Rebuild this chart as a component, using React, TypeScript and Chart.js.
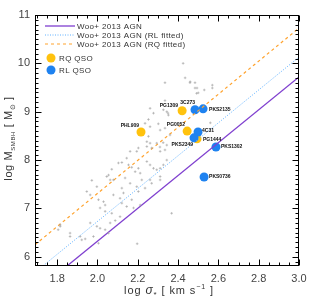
import React, { useEffect, useRef } from 'react';
import { Chart, registerables } from 'chart.js';
Chart.register(...registerables);

// ---- tick values ----
const xTicks = [1.8, 2.0, 2.2, 2.4, 2.6, 2.8, 3.0];
const yTicks = [6, 7, 8, 9, 10, 11];

// ---- RQ QSOs ----
const rqNames = ['PHL909', 'PG1309', 'PG0052', 'PG1444'];
const rqSigma = [2.216, 2.420, 2.445, 2.494];
const rqMass = [8.58, 9.02, 8.60, 8.44];

// ---- RL QSOs ----
const rlNames = ['3C273', 'PKS2135', '4C31', 'PKS2349', 'PKS1302', 'PKS0736'];
const rlSigma = [2.484, 2.524, 2.499, 2.479, 2.588, 2.529];
const rlMass = [9.04, 9.06, 8.58, 8.46, 8.27, 7.65];

// ---- Woo+ 2013 AGN sample (grey) ----
const agnSigma = [
  2.335, 2.459, 2.484, 2.492, 2.484, 2.335, 2.261, 2.327, 2.344, 2.278, 2.352,
  2.253, 2.302, 2.236, 2.261, 2.335, 2.311, 2.253, 2.245, 2.261, 2.245, 2.294,
  2.344, 2.335, 2.203, 2.195, 2.162, 2.269, 2.311, 2.145, 2.121, 2.104, 2.154,
  2.170, 2.203, 2.187, 2.212, 2.245, 2.261, 2.278, 2.294, 2.327, 2.311, 2.344,
  2.071, 2.055, 2.046, 2.079, 2.063, 2.137, 2.162, 2.195, 2.220, 2.261, 2.269,
  2.311, 2.311, 1.972, 1.997, 2.121, 2.129, 2.203, 2.236, 1.947, 1.964, 2.005,
  2.030, 2.038, 2.079, 2.112, 2.121, 2.145, 2.170, 2.179, 2.212, 2.071, 2.038,
  2.013, 2.368, 2.088, 2.112, 1.964, 1.997, 2.013, 2.038, 2.063, 2.055, 1.980,
  1.914, 1.922, 1.939, 1.864, 1.864, 1.815, 2.005, 2.197, 1.815, 1.805,
  2.425, 2.435, 2.460, 2.494, 2.530, 2.500, 2.570, 2.570, 2.350, 2.360, 2.326,
  2.560, 2.310
];
const agnMass = [
  9.60, 9.60, 9.60, 9.38, 9.49, 9.23, 9.07, 9.04, 9.00, 8.97, 8.93,
  8.84, 8.75, 8.76, 8.69, 8.66, 8.62, 8.49, 8.38, 8.35, 8.28, 8.35,
  8.31, 8.21, 8.25, 8.18, 8.18, 8.25, 8.18, 8.04, 7.95, 7.94, 7.90,
  7.85, 7.83, 7.76, 7.73, 7.97, 7.90, 7.83, 7.80, 7.90, 7.83, 8.00,
  7.81, 7.69, 7.66, 7.59, 7.59, 7.63, 7.52, 7.45, 7.59, 7.59, 7.52,
  7.66, 7.59, 7.58, 7.45, 7.42, 7.32, 7.35, 7.42, 7.35, 7.28, 7.18,
  7.14, 7.07, 7.28, 7.21, 7.11, 7.04, 7.18, 7.01, 7.07, 6.90, 6.94,
  7.01, 6.90, 6.75, 6.83, 6.70, 6.63, 6.59, 6.56, 6.70, 6.49, 6.42,
  6.42, 6.35, 6.37, 6.49, 6.42, 6.63, 6.28, 6.27, 6.66, 6.56,
  10.00, 9.70, 9.62, 9.49, 9.45, 9.39, 9.55, 9.49, 8.97, 8.52, 8.36,
  8.77, 8.27
];

// ---- relation lines (end points) ----
const wooSigma = [1.84, 3.0];
const wooMass = [5.78, 9.72];
const rlFitSigma = [1.72, 3.0];
const rlFitMass = [5.78, 10.13];
const rqFitSigma = [1.69, 3.0];
const rqFitMass = [6.25, 10.73];

const COL_WOO = '#7f3fcf';
const COL_RL_FIT = '#5fb0ff';
const COL_RQ_FIT = '#ffa32e';
const COL_RQ = '#ffc20e';
const COL_RL = '#1e82f0';

const FONT = '"Liberation Sans", Arial, Helvetica, sans-serif';

// label placement (pixel offsets, align) for named points
const labelPlacement: Record<string, [number, number, CanvasTextAlign]> = {
  PHL909: [-2, -6, 'right'],
  PG1309: [-4, -5, 'right'],
  '3C273': [0, -7, 'right'],
  PKS2135: [6, 1, 'left'],
  PG0052: [-2, -6, 'right'],
  '4C31': [4, -1, 'left'],
  PG1444: [6, 1, 'left'],
  PKS2349: [-1, 7, 'right'],
  PKS1302: [5, 0, 'left'],
  PKS0736: [5, 0, 'left'],
};

const zip = (xs: number[], ys: number[]) => xs.map((x, i) => ({ x, y: ys[i] }));

const decorPlugin = {
  id: 'decor',
  afterDatasetsDraw(chart: any) {
    const { ctx } = chart;
    ctx.save();
    ctx.font = `bold 5px ${FONT}`;
    ctx.fillStyle = '#111';
    ctx.textBaseline = 'middle';
    chart.data.datasets.forEach((ds: any, di: number) => {
      if (!ds.names) return;
      const meta = chart.getDatasetMeta(di);
      meta.data.forEach((el: any, i: number) => {
        const name = ds.names[i];
        const p = labelPlacement[name];
        if (!p) return;
        ctx.textAlign = p[2];
        ctx.fillText(name, el.x + p[0], el.y + p[1]);
      });
    });
    ctx.restore();
  },
  afterDraw(chart: any) {
    const { ctx, chartArea } = chart;
    const { left, right, top, bottom } = chartArea;
    const xs = chart.scales.x;
    const ys = chart.scales.y;
    ctx.save();
    // frame
    ctx.strokeStyle = '#000';
    ctx.lineWidth = 1;
    const L = Math.round(left) + 0.5, R = Math.round(right) - 0.5;
    const T = Math.round(top) + 0.5, B = Math.round(bottom) - 0.5;
    ctx.strokeRect(L, T, R - L, B - T);
    // x ticks (inside, top & bottom)
    ctx.beginPath();
    for (let k = 34; k <= 60; k++) {
      const v = k * 0.05;
      if (v < xs.min - 1e-9 || v > xs.max + 1e-9) continue;
      const px = Math.round(xs.getPixelForValue(v)) + 0.5;
      const major = k % 4 === 0;
      const len = major ? 6 : 3;
      ctx.moveTo(px, B); ctx.lineTo(px, B - len);
      ctx.moveTo(px, T); ctx.lineTo(px, T + len);
    }
    // y ticks (inside, left & right)
    for (let k = 58; k <= 110; k++) {
      const v = k * 0.1;
      if (v < ys.min - 1e-9 || v > ys.max + 1e-9) continue;
      const py = Math.round(ys.getPixelForValue(v)) + 0.5;
      const major = k % 10 === 0;
      const len = major ? 6 : 3;
      ctx.moveTo(L, py); ctx.lineTo(L + len, py);
      ctx.moveTo(R, py); ctx.lineTo(R - len, py);
    }
    ctx.stroke();

    // legend
    const lg = [
      { c: COL_WOO, dash: [] as number[], w: 1.3, t: 'Woo+ 2013 AGN' },
      { c: COL_RL_FIT, dash: [1, 1.5], w: 1, t: 'Woo+ 2013 AGN (RL fitted)' },
      { c: COL_RQ_FIT, dash: [3, 3], w: 1.2, t: 'Woo+ 2013 AGN (RQ fitted)' },
    ];
    (ctx as any).letterSpacing = '0.35px';
    ctx.font = `8px ${FONT}`;
    ctx.textBaseline = 'middle';
    ctx.textAlign = 'left';
    lg.forEach((e, i) => {
      const y = 26 + i * 9;
      ctx.strokeStyle = e.c;
      ctx.lineWidth = e.w;
      ctx.setLineDash(e.dash);
      ctx.beginPath();
      ctx.moveTo(45, y); ctx.lineTo(75, y);
      ctx.stroke();
      ctx.fillStyle = '#333';
      ctx.fillText(e.t, 77, y + 0.5);
    });
    ctx.setLineDash([]);
    const lp = [
      { c: COL_RQ, t: 'RQ QSO' },
      { c: COL_RL, t: 'RL QSO' },
    ];
    lp.forEach((e, i) => {
      const y = 58 + i * 12;
      ctx.fillStyle = e.c;
      ctx.beginPath();
      ctx.arc(51, y, 4.5, 0, Math.PI * 2);
      ctx.fill();
      ctx.fillStyle = '#333';
      ctx.font = `8px ${FONT}`;
      ctx.fillText(e.t, 59, y + 0.5);
    });

    // axis titles
    ctx.fillStyle = '#333';
    const drawRich = (parts: { t: string; dy: number; size: number; italic?: boolean }[], x: number, y: number) => {
      let cx = x;
      parts.forEach((p) => {
        ctx.font = `${p.italic ? 'italic ' : ''}${p.size}px ${FONT}`;
        ctx.fillText(p.t, cx, y + p.dy);
        cx += ctx.measureText(p.t).width;
      });
      return cx - x;
    };
    const measureRich = (parts: { t: string; dy: number; size: number; italic?: boolean }[]) => {
      let w = 0;
      parts.forEach((p) => {
        ctx.font = `${p.italic ? 'italic ' : ''}${p.size}px ${FONT}`;
        w += ctx.measureText(p.t).width;
      });
      return w;
    };
    ctx.textAlign = 'left';
    ctx.textBaseline = 'alphabetic';
    (ctx as any).letterSpacing = '0.9px';
    const xParts = [
      { t: 'log ', dy: 0, size: 11 },
      { t: 'σ', dy: 0, size: 12, italic: true },
      { t: '*', dy: 3, size: 8 },
      { t: ' [ km s', dy: 0, size: 11 },
      { t: '−1', dy: -5, size: 7 },
      { t: ' ]', dy: 0, size: 11 },
    ];
    const xw = measureRich(xParts);
    drawRich(xParts, (left + right) / 2 - xw / 2 + 2, 294);
    (ctx as any).letterSpacing = '0.6px';
    const yParts = [
      { t: 'log M', dy: 0, size: 11 },
      { t: 'SMBH', dy: 3, size: 6 },
      { t: ' [ M', dy: 0, size: 11 },
      { t: '⊙', dy: 3, size: 7 },
      { t: ' ]', dy: 0, size: 11 },
    ];
    const yw = measureRich(yParts);
    ctx.save();
    ctx.translate(12, (top + bottom) / 2 - 2);
    ctx.rotate(-Math.PI / 2);
    drawRich(yParts, -yw / 2, 0);
    ctx.restore();
    (ctx as any).letterSpacing = '0px';
    ctx.restore();
  },
};

export default function App() {
  const ref = useRef<HTMLCanvasElement | null>(null);
  useEffect(() => {
    document.body.style.margin = '0';
    const canvas = ref.current!;
    const chart = new Chart(canvas, {
      type: 'scatter',
      data: {
        datasets: [
          {
            type: 'scatter',
            data: zip(agnSigma, agnMass),
            pointStyle: 'cross',
            pointRadius: 1.3,
            borderColor: '#a0a0a0',
            borderWidth: 0.6,
            backgroundColor: '#a0a0a0',
          } as any,
          {
            type: 'line',
            data: zip(wooSigma, wooMass),
            borderColor: COL_WOO,
            borderWidth: 1.3,
            pointRadius: 0,
            fill: false,
          } as any,
          {
            type: 'line',
            data: zip(rlFitSigma, rlFitMass),
            borderColor: COL_RL_FIT,
            borderWidth: 1,
            borderDash: [1, 1.5],
            pointRadius: 0,
            fill: false,
          } as any,
          {
            type: 'line',
            data: zip(rqFitSigma, rqFitMass),
            borderColor: COL_RQ_FIT,
            borderWidth: 1.2,
            borderDash: [3, 3],
            pointRadius: 0,
            fill: false,
          } as any,
          {
            type: 'scatter',
            data: zip(rlSigma, rlMass),
            names: rlNames,
            pointStyle: 'circle',
            pointRadius: 4.5,
            backgroundColor: COL_RL,
            borderWidth: 0,
          } as any,
          {
            type: 'scatter',
            data: zip(rqSigma, rqMass),
            names: rqNames,
            pointStyle: 'circle',
            pointRadius: 4.5,
            backgroundColor: COL_RQ,
            borderWidth: 0,
          } as any,
        ],
      },
      options: {
        responsive: false,
        animation: false,
        layout: { padding: { top: 15, right: 16, left: 0, bottom: 0 } },
        plugins: { legend: { display: false }, tooltip: { enabled: false } },
        scales: {
          x: {
            type: 'linear',
            min: 1.69,
            max: 3.0,
            afterBuildTicks: (s: any) => { s.ticks = xTicks.map((v) => ({ value: v })); },
            afterFit: (s: any) => { s.height = 33; },
            grid: { display: false, drawTicks: false },
            border: { display: false },
            ticks: {
              padding: 6,
              color: '#444',
              font: { family: FONT, size: 11 },
              callback: (v: any) => Number(v).toFixed(1),
              maxRotation: 0,
              autoSkip: false,
            },
          },
          y: {
            type: 'linear',
            min: 5.81,
            max: 11.0,
            afterBuildTicks: (s: any) => { s.ticks = yTicks.map((v) => ({ value: v })); },
            afterFit: (s: any) => { s.width = 35; },
            grid: { display: false, drawTicks: false },
            border: { display: false },
            ticks: {
              padding: 5,
              color: '#444',
              font: { family: FONT, size: 11 },
              callback: (v: any) => String(Math.round(Number(v))),
              autoSkip: false,
            },
          },
        },
      } as any,
      plugins: [decorPlugin],
    });
    return () => chart.destroy();
  }, []);
  return <canvas ref={ref} width={315} height={299} style={{ display: 'block' }} />;
}
